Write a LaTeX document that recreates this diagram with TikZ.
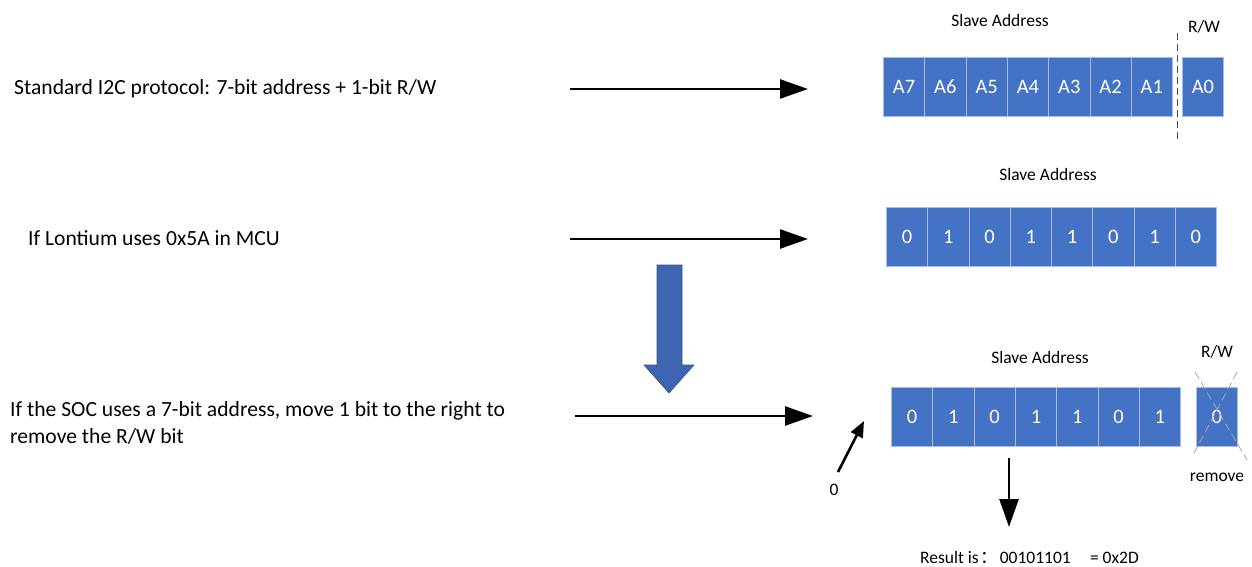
\documentclass[tikz,border=0pt]{standalone}
\usepackage{fontspec}
\setmainfont{Carlito}
\newfontfamily\cjk{Noto Sans CJK SC}
\usetikzlibrary{arrows.meta}
\definecolor{cellblue}{HTML}{4472C4}
\definecolor{cellline}{HTML}{A9BEE6}
\definecolor{bigarrow}{HTML}{3F65B1}
\definecolor{bigarrowline}{HTML}{2F528F}
\begin{document}
\begin{tikzpicture}[x=1pt,y=-1pt,
  cell/.style={draw=cellline, fill=cellblue, line width=0.8pt, minimum width=41.3pt,
    minimum height=59pt, inner sep=0pt, text=white, font=\fontsize{20.5}{24}\selectfont, anchor=north west},
  lbl/.style={font=\fontsize{17.5}{21}\selectfont, inner sep=0pt},
  desc/.style={font=\fontsize{21.6}{27}\selectfont, anchor=west, inner sep=0pt, align=left},
  arr/.style={line width=2.6pt, -{Triangle[length=28pt,width=19pt]}},
  smallarr/.style={line width=2.6pt, -{Triangle[length=16pt,width=13pt]}},
  crossline/.style={draw=gray!70, dashed, dash pattern=on 8pt off 4pt, line width=0.8pt}]
\useasboundingbox (0,0) rectangle (1252,567);

% left descriptions
\node[desc] (t1) at (14,89) {Standard I2C protocol: 7-bit address + 1-bit R/W};
\node[desc] (t2) at (28,238) {If Lontium uses 0x5A in MCU};
\node[desc] (t3) at (10,423) {If the SOC uses a 7-bit address, move 1 bit to the right to\\remove the R/W bit};

% horizontal arrows
\coordinate (a1s) at (570,89);  \coordinate (a1e) at (808,89);
\coordinate (a2s) at (570,239); \coordinate (a2e) at (808,239);
\coordinate (a3s) at (575,416); \coordinate (a3e) at (813,416);
\draw[arr] (a1s) -- (a1e);
\draw[arr] (a2s) -- (a2e);
\draw[arr] (a3s) -- (a3e);

% block arrow
\draw[fill=bigarrow, draw=bigarrowline, line width=0.6pt]
  (657,265) -- (682,265) -- (682,365) -- (694,365) -- (669,393) -- (644,365) -- (657,365) -- cycle;

% row 1
\node[lbl] (sa1) at (1000,20) {Slave Address};
\node[lbl] (rw1) at (1204,27) {R/W};
\foreach \t [count=\i from 0] in {A7,A6,A5,A4,A3,A2,A1}
  \node[cell] (r1c\i) at ({883+41.3*\i},57) {\t};
\node[cell, minimum width=41pt] (r1a0) at (1182,57) {A0};
\coordinate (d1) at (1177,33); \coordinate (d2) at (1177,140);
\draw[dashed, dash pattern=on 7pt off 4pt, draw=gray!60!black, line width=0.8pt] (d1) -- (d2);

% row 2
\node[lbl] (sa2) at (1048,174) {Slave Address};
\foreach \t [count=\i from 0] in {0,1,0,1,1,0,1,0}
  \node[cell] (r2c\i) at ({886+41.25*\i},207) {\t};

% row 3
\node[lbl] (sa3) at (1040,357) {Slave Address};
\node[lbl] (rw3) at (1217,352) {R/W};
\foreach \t [count=\i from 0] in {0,1,0,1,1,0,1}
  \node[cell] (r3c\i) at ({891+41.3*\i},387) {\t};
\node[cell, minimum width=41pt] (r3rw) at (1196,387) {0};
\coordinate (x1) at (1195,372); \coordinate (x2) at (1247,460);
\coordinate (x3) at (1237,372); \coordinate (x4) at (1193,455);
\draw[crossline] (x1) -- (x2);
\draw[crossline] (x3) -- (x4);
\node[lbl] (rm) at (1217,477) {remove};

% small arrow with 0
\node[lbl] (zero) at (834,490) {0};
\coordinate (sa) at (838,472); \coordinate (sb) at (864,421);
\draw[smallarr] (sa) -- (sb);

% result arrow
\coordinate (ra) at (1009,458); \coordinate (rb) at (1009,527);
\draw[arr] (ra) -- (rb);
\node[lbl, anchor=west, font=\fontsize{17.5}{21}\selectfont] (res) at (920,557)
  {Result is\hspace{0.1em}{\cjk ：}\hspace{0.1em}00101101\hspace{1.1em}= 0x2D};
\end{tikzpicture}
\end{document}
